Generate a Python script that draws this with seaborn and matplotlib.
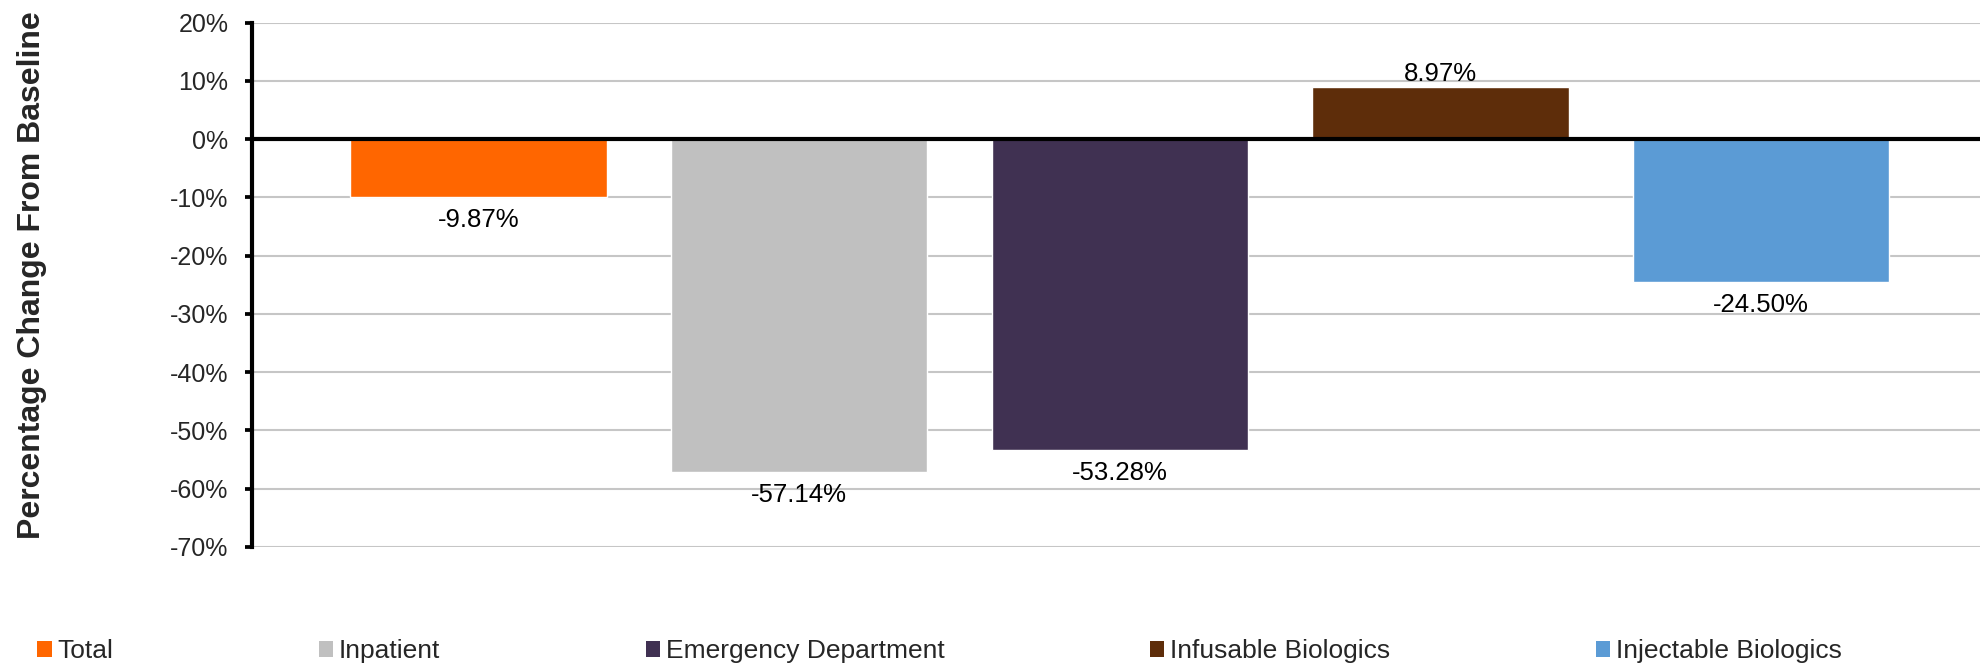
import matplotlib
matplotlib.use("Agg")
import matplotlib.pyplot as plt
from matplotlib.patches import Patch
from matplotlib.ticker import PercentFormatter
import seaborn as sns
import pandas as pd

categories = ["Total", "Inpatient", "Emergency Department", "Infusable Biologics", "Injectable Biologics"]
values = [-0.0987, -0.5714, -0.5328, 0.0897, -0.2450]
labels = ["-9.87%", "-57.14%", "-53.28%", "8.97%", "-24.50%"]
colors = ["#FF6600", "#C0C0C0", "#403152", "#5E2D0A", "#5B9BD5"]
y_ticks = [0.2, 0.1, 0.0, -0.1, -0.2, -0.3, -0.4, -0.5, -0.6, -0.7]

sns.set_theme(style="white")
plt.rcParams["font.family"] = ["Liberation Sans", "DejaVu Sans"]
plt.rcParams["axes.unicode_minus"] = False

df = pd.DataFrame({"category": categories, "value": values})

W, H = 1980, 668
fig = plt.figure(figsize=(W / 100, H / 100), dpi=100)
ax_left, ax_right = 252 / W, 1.0
ax_top, ax_bot = 1 - 22.7 / H, 1 - 547 / H
ax = fig.add_axes([ax_left, ax_bot, ax_right - ax_left, ax_top - ax_bot])

sns.barplot(data=df, x="category", y="value", hue="category", palette=colors,
            dodge=False, width=0.8, legend=False, ax=ax, saturation=1, zorder=3)

ax.set_ylim(-0.70, 0.20)
ax.set_xlim(-0.7065, 4.683)
ax.set_yticks(y_ticks)
ax.yaxis.set_major_formatter(PercentFormatter(1.0, decimals=0))
ax.tick_params(axis="y", labelsize=18, length=5, width=2.7, direction="out",
               color="black", pad=12, left=True)
ax.tick_params(axis="x", bottom=False, labelbottom=False)
ax.set_xlabel("")

ax.grid(axis="y", color="#C6C6C6", linewidth=1.5, zorder=0)
ax.set_axisbelow(True)
for s in ["top", "right", "bottom"]:
    ax.spines[s].set_visible(False)
ax.spines["left"].set_color("black")
ax.spines["left"].set_linewidth(3)
ax.axhline(0, color="black", linewidth=3, zorder=4)

ax.set_ylabel("Percentage Change From Baseline", fontsize=23, fontweight="bold")
ax.yaxis.set_label_coords(-0.1186, 0.519)

for i, (v, lab) in enumerate(zip(values, labels)):
    if v < 0:
        ax.annotate(lab, (i, v), xytext=(0, -8), textcoords="offset points",
                    ha="center", va="top", fontsize=18.5, color="black")
    else:
        ax.annotate(lab, (i, v), xytext=(0, 4.3), textcoords="offset points",
                    ha="center", va="baseline", fontsize=18.5, color="black")

handles = [Patch(facecolor=c, edgecolor="none") for c in colors]
fig.legend(handles, categories, loc="center left", bbox_to_anchor=(37 / W, 1 - 651 / H),
           ncol=5, frameon=False, fontsize=19, borderpad=0, borderaxespad=0,
           handlelength=0.55, handleheight=0.55, handletextpad=0.23, columnspacing=7.77)

fig.savefig("out.png", dpi=100)
